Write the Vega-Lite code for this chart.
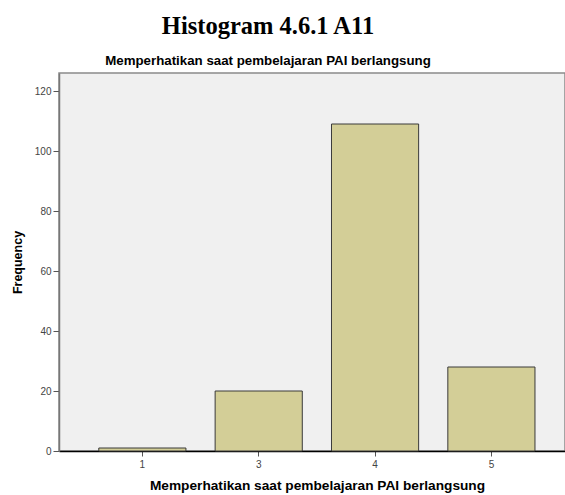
{
  "$schema": "https://vega.github.io/schema/vega-lite/v6.json",
  "width": 506,
  "height": 378,
  "autosize": {"type": "none"},
  "padding": {"left": 59, "top": 73, "right": 0, "bottom": 44},
  "background": "white",
  "title": {
    "text": "Histogram 4.6.1 A11",
    "subtitle": "Memperhatikan saat pembelajaran PAI berlangsung",
    "anchor": "middle",
    "frame": "group",
    "dx": -44,
    "offset": 5,
    "font": "Liberation Serif",
    "fontSize": 24.5,
    "fontWeight": "bold",
    "color": "black",
    "subtitleFont": "Liberation Sans",
    "subtitleFontSize": 13.3,
    "subtitleFontWeight": "bold",
    "subtitleColor": "black",
    "subtitlePadding": 14
  },
  "config": {
    "view": {"fill": "#F0F0F0", "stroke": "#8a8a8a", "strokeWidth": 1.5},
    "axis": {"grid": false, "labelFont": "Liberation Sans", "titleFont": "Liberation Sans"}
  },
  "data": {
    "values": [
      {"value": "1", "frequency": 1},
      {"value": "3", "frequency": 20},
      {"value": "4", "frequency": 109},
      {"value": "5", "frequency": 28}
    ]
  },
  "mark": {"type": "bar", "fill": "#D3CE97", "stroke": "#3a3a3a", "strokeWidth": 1},
  "encoding": {
    "x": {
      "field": "value",
      "type": "nominal",
      "sort": ["1", "3", "4", "5"],
      "scale": {"paddingInner": 0.251, "paddingOuter": 0.3, "align": 0.57},
      "axis": {
        "title": "Memperhatikan saat pembelajaran PAI berlangsung",
        "titleFontSize": 13.7,
        "titleFontWeight": "bold",
        "titleColor": "black",
        "titlePadding": 9,
        "titleX": 258,
        "titleAnchor": "middle",
        "labelAngle": 0,
        "labelFontSize": 10,
        "labelColor": "#444",
        "labelPadding": 3,
        "tickColor": "#555",
        "tickSize": 5,
        "domainColor": "black",
        "domainWidth": 1.5
      }
    },
    "y": {
      "field": "frequency",
      "type": "quantitative",
      "scale": {"domain": [0, 126], "nice": false},
      "axis": {
        "title": "Frequency",
        "values": [0, 20, 40, 60, 80, 100, 120],
        "titleFontSize": 12.5,
        "titleFontWeight": "bold",
        "titleColor": "black",
        "titlePadding": 10,
        "labelFontSize": 10,
        "labelColor": "#444",
        "labelPadding": 2,
        "tickColor": "#555",
        "tickSize": 6,
        "domainColor": "#777",
        "domainWidth": 1.5
      }
    }
  }
}
